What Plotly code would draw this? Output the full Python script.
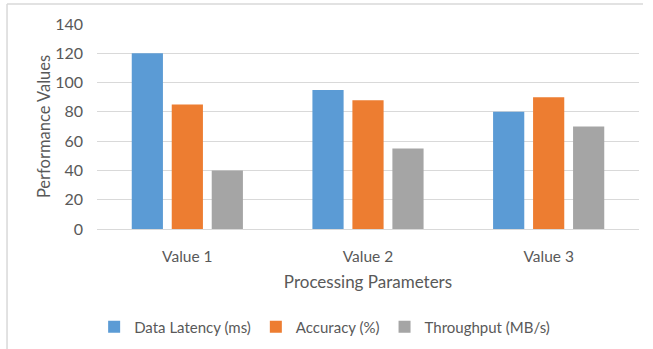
import plotly.graph_objects as go

# Processing parameter categories and measured values per metric
categories = ["Value 1", "Value 2", "Value 3"]
latency_ms = [120, 95, 80]
accuracy_pct = [85, 88, 90]
throughput_mbs = [40, 55, 70]

series = [
    ("Data Latency (ms)", latency_ms, "#5B9BD5"),
    ("Accuracy (%)", accuracy_pct, "#ED7D31"),
    ("Throughput (MB/s)", throughput_mbs, "#A5A5A5"),
]

TEXT = "#595959"
FONT = "Lato"

fig = go.Figure()
for name, vals, color in series:
    fig.add_trace(go.Bar(name=name, x=categories, y=vals,
                         marker=dict(color=color, line=dict(width=0))))

fig.update_layout(
    width=653, height=349,
    margin=dict(l=97, r=14, t=24, b=120, autoexpand=False),
    paper_bgcolor="white", plot_bgcolor="white",
    barmode="group", bargap=0.336, bargroupgap=0.22,
    font=dict(family=FONT, color=TEXT, size=15),
    showlegend=True,
    legend=dict(orientation="h", x=0.42, xanchor="center", y=-0.478, yanchor="middle",
                font=dict(size=15, color=TEXT), itemwidth=30, traceorder="normal"),
    xaxis=dict(
        automargin=False,
        showgrid=False, showline=True, linecolor="#D9D9D9", linewidth=1.3,
        ticks="", ticklabelstandoff=13, tickfont=dict(size=15.5, color=TEXT),
        title=dict(text="Processing Parameters", font=dict(size=17, color=TEXT), standoff=12),
    ),
    yaxis=dict(
        automargin=False,
        range=[0, 140], dtick=20, showgrid=True, gridcolor="#D9D9D9", gridwidth=1.3,
        zeroline=False, showline=False, ticks="", ticklabelstandoff=13,
        tickfont=dict(size=16, color=TEXT),
        title=dict(text="Performance Values", font=dict(size=16.5, color=TEXT), standoff=0),
    ),
    shapes=[
        dict(type="line", xref="paper", yref="paper", x0=-0.166, x1=1.0074, y0=1.0976, y1=1.0976,
             line=dict(color="#D9D9D9", width=1.5)),
        dict(type="line", xref="paper", yref="paper", x0=-0.166, x1=-0.166, y0=1.0976, y1=-0.6,
             line=dict(color="#D9D9D9", width=1.5)),
    ],
)

fig.write_html("out.html")
